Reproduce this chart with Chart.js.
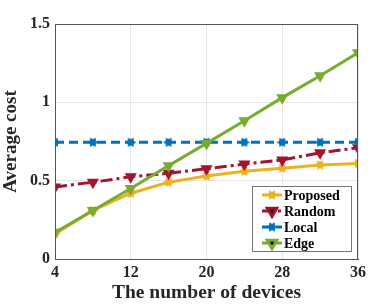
<!DOCTYPE html>
<html>
<head>
<meta charset="utf-8">
<script src="https://cdn.jsdelivr.net/npm/chart.js@4/dist/chart.umd.min.js"></script>
<style>
  html, body { margin: 0; padding: 0; background: #fff; }
  #wrap { width: 388px; height: 305px; }
</style>
</head>
<body>
<div id="wrap"><canvas id="costChart"></canvas></div>
<script>
const devices = [4, 8, 12, 16, 20, 24, 28, 32, 36];
const proposed = [0.16, 0.31, 0.42, 0.49, 0.53, 0.56, 0.58, 0.60, 0.61];
const random = [0.46, 0.49, 0.525, 0.547, 0.576, 0.606, 0.632, 0.678, 0.71];
const local = [0.745, 0.745, 0.745, 0.745, 0.745, 0.745, 0.745, 0.745, 0.745];
const edge = [0.17, 0.31, 0.45, 0.596, 0.738, 0.883, 1.03, 1.17, 1.317];
const xTicks = [4, 12, 20, 28, 36];
const yTicks = [0, 0.5, 1, 1.5];

const FONT = "'Liberation Serif', 'Times New Roman', serif";

const toPts = arr => arr.map((v, i) => ({ x: devices[i], y: v }));

// six point star marker (matlab 'hexagram')
function hexagram(color) {
    const c = document.createElement('canvas');
    c.width = 12; c.height = 11;
    const g = c.getContext('2d');
    g.fillStyle = color;
    g.beginPath();
    for (let k = 0; k < 12; k++) {
        const r = k % 2 === 0 ? 5.8 : 3.4;
        const ang = k * Math.PI / 6;
        const px = 6 + r * Math.cos(ang), py = 5.5 + r * Math.sin(ang) * 0.92;
        k === 0 ? g.moveTo(px, py) : g.lineTo(px, py);
    }
    g.closePath();
    g.fill();
    return c;
}

// legend box inside the plot + top/right frame
const boxPlugin = {
    id: 'boxLegend',
    afterDraw(chart) {
        const ctx = chart.ctx;
        const a = chart.chartArea;
        ctx.save();
        ctx.strokeStyle = '#555';
        ctx.lineWidth = 1;
        ctx.strokeRect(a.left + 0.5, a.top + 0.5, a.right - a.left - 1, a.bottom - a.top);

        const lx = 252, ly = 186, lw = 99, lh = 65;
        ctx.fillStyle = '#fff';
        ctx.fillRect(lx, ly, lw, lh);
        ctx.strokeStyle = '#777';
        ctx.strokeRect(lx + 0.5, ly + 0.5, lw, lh);

        ctx.font = 'bold 14px ' + FONT;
        ctx.textBaseline = 'middle';
        chart.data.datasets.forEach((ds, i) => {
            const y = ly + 9 + i * 16;
            ctx.strokeStyle = ds.borderColor;
            ctx.lineWidth = ds.borderWidth;
            ctx.setLineDash(ds.borderDash || []);
            ctx.beginPath();
            ctx.moveTo(lx + 10, y);
            ctx.lineTo(lx + 30, y);
            ctx.stroke();
            ctx.setLineDash([]);
            Chart.helpers.drawPoint(ctx, {
                pointStyle: ds.pointStyle,
                rotation: ds.pointRotation || 0,
                radius: ds.pointRadius,
                borderWidth: ds.pointBorderWidth
            }, lx + 20, y);
            ctx.fillStyle = '#000';
            ctx.fillText(ds.label, lx + 32, y + 1);
        });
        ctx.restore();
    }
};

function series(label, data, color, style, dash, rot, radius, order) {
    return {
        label: label,
        data: toPts(data),
        borderColor: color,
        backgroundColor: color,
        pointBackgroundColor: color,
        pointBorderColor: color,
        borderWidth: 3,
        borderDash: dash,
        pointStyle: style,
        pointRotation: rot,
        pointRadius: radius,
        pointBorderWidth: 1.5,
        order: order,
        tension: 0
    };
}

new Chart(document.getElementById('costChart'), {
    type: 'line',
    data: {
        datasets: [
            series('Proposed', proposed, '#EDB120', hexagram('#EDB120'), [], 0, 5, 4),
            series('Random', random, '#A2142F', 'triangle', [12, 4, 3, 4], 180, 5.5, 3),
            series('Local', local, '#0072BD', hexagram('#0072BD'), [9, 5], 0, 5, 2),
            series('Edge', edge, '#77AC30', 'triangle', [], 180, 5.5, 1)
        ]
    },
    options: {
        responsive: true,
        maintainAspectRatio: false,
        animation: false,
        layout: { padding: { top: 24, right: 30, left: 0, bottom: 0 } },
        plugins: {
            legend: { display: false },
            tooltip: { enabled: false }
        },
        scales: {
            x: {
                type: 'linear',
                min: 4,
                max: 36,
                afterBuildTicks: s => { s.ticks = xTicks.map(v => ({ value: v })); },
                afterFit: s => { s.height = 46; },
                ticks: { color: '#262626', padding: 4, font: { family: FONT, size: 16, weight: 'bold' } },
                grid: { color: '#e6e6e6', drawTicks: false },
                border: { color: '#555' },
                title: {
                    display: true,
                    text: 'The number of devices',
                    color: '#262626',
                    padding: { top: 0, bottom: 0 },
                    font: { family: FONT, size: 19.5, weight: 'bold' }
                }
            },
            y: {
                min: 0,
                max: 1.5,
                afterBuildTicks: s => { s.ticks = yTicks.map(v => ({ value: v })); },
                afterFit: s => { s.width = 55; },
                ticks: {
                    color: '#262626',
                    padding: 5,
                    callback: v => String(v),
                    font: { family: FONT, size: 16, weight: 'bold' }
                },
                grid: { color: '#e6e6e6', drawTicks: false },
                border: { color: '#555' },
                title: {
                    display: true,
                    text: 'Average cost',
                    color: '#262626',
                    padding: { top: 0, bottom: 1 },
                    font: { family: FONT, size: 19, weight: 'bold' }
                }
            }
        }
    },
    plugins: [boxPlugin]
});
</script>
</body>
</html>
